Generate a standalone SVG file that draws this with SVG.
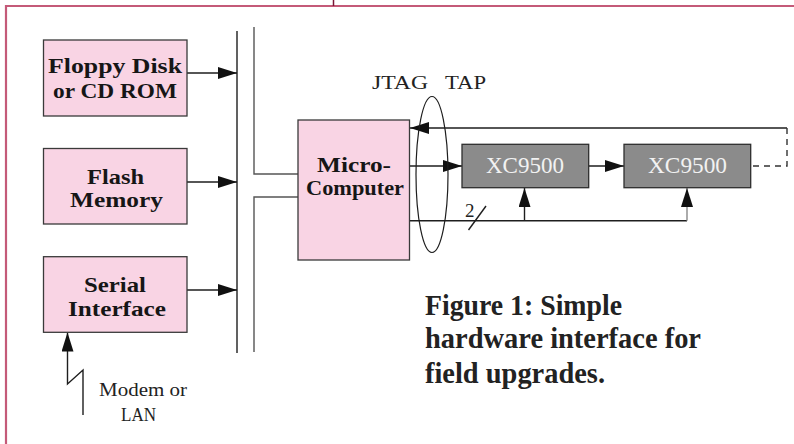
<svg xmlns="http://www.w3.org/2000/svg" width="794" height="444" viewBox="0 0 794 444">
<style>
.pink{fill:#f9d4e4;stroke:#3a3a3a;stroke-width:1.3}
.gray{fill:#8b8b8b;stroke:#2e2e2e;stroke-width:1.3}
.lbl{font-family:"Liberation Serif",serif;font-weight:bold;font-size:22px;fill:#161616;text-anchor:middle}
.chip{font-family:"Liberation Serif",serif;font-size:24px;fill:#f2f2f2;text-anchor:middle}
.thin{font-family:"Liberation Serif",serif;font-size:19px;fill:#222}
.cap{font-family:"Liberation Serif",serif;font-weight:bold;font-size:29px;fill:#222}
.w{fill:none;stroke:#1e1e1e;stroke-width:1.4}
.g{fill:none;stroke:#555;stroke-width:1.4}
</style>
<defs>
<marker id="ah" markerUnits="userSpaceOnUse" markerWidth="19" markerHeight="12" refX="19" refY="6" orient="auto">
<path d="M0,0 L19,6 L0,12 z" fill="#111"/>
</marker>
</defs>
<rect width="794" height="444" fill="#fff"/>
<g id="frame">
<path d="M6,444 V6 H794" fill="none" stroke="#c45a78" stroke-width="2.2"/>
<line x1="333.5" y1="0" x2="333.5" y2="6" stroke="#7a1736" stroke-width="1.5"/>
</g>
<g id="connectors">
<line class="w" x1="237" y1="31" x2="237" y2="353"/>
<path class="g" d="M254,27 V174 H298"/>
<path class="g" d="M298,197 H254 V352"/>
<line class="w" x1="187" y1="73" x2="237" y2="73" marker-end="url(#ah)"/>
<line class="w" x1="187" y1="182" x2="237" y2="182" marker-end="url(#ah)"/>
<line class="w" x1="187" y1="290" x2="237" y2="290" marker-end="url(#ah)"/>
<path class="w" d="M83,415 V370 L67.5,384 V332.5" marker-end="url(#ah)"/>
<line class="w" x1="787" y1="128" x2="410" y2="128" marker-end="url(#ah)"/>
<path d="M787,128 V166 H751" fill="none" stroke="#333" stroke-width="1.4" stroke-dasharray="6,5"/>
<line class="w" x1="409" y1="166" x2="462" y2="166" marker-end="url(#ah)"/>
<line class="w" x1="589" y1="166" x2="624" y2="166" marker-end="url(#ah)"/>
<line class="w" x1="409" y1="220.7" x2="687" y2="220.7"/>
<line class="w" x1="524.5" y1="220.7" x2="524.5" y2="188" marker-end="url(#ah)"/>
<line x1="687" y1="220.7" x2="687" y2="188" stroke="#888" stroke-width="1.4" marker-end="url(#ah)"/>
<line class="w" x1="468.5" y1="230" x2="486" y2="206" stroke-width="1"/>
<text class="thin" x="465" y="216.5" font-size="17">2</text>
<ellipse cx="432" cy="174.5" rx="16" ry="78" fill="none" stroke="#1e1e1e" stroke-width="1.2"/>
</g>
<g id="floppy">
<rect class="pink" x="43.5" y="40" width="143.5" height="76"/>
<text class="lbl" x="115" y="72.7" textLength="134" lengthAdjust="spacingAndGlyphs">Floppy Disk</text>
<text class="lbl" x="115" y="98.3" textLength="124" lengthAdjust="spacingAndGlyphs">or CD ROM</text>
</g>
<g id="flash">
<rect class="pink" x="43.5" y="148.5" width="143.5" height="75.5"/>
<text class="lbl" x="115.5" y="184" textLength="57" lengthAdjust="spacingAndGlyphs">Flash</text>
<text class="lbl" x="116.5" y="207" textLength="93" lengthAdjust="spacingAndGlyphs">Memory</text>
</g>
<g id="serial">
<rect class="pink" x="43.5" y="256.7" width="143.5" height="75.6"/>
<text class="lbl" x="115" y="292.3" textLength="62" lengthAdjust="spacingAndGlyphs">Serial</text>
<text class="lbl" x="117" y="316" textLength="98" lengthAdjust="spacingAndGlyphs">Interface</text>
</g>
<g id="micro">
<rect class="pink" x="298" y="120" width="111.5" height="140"/>
<text class="lbl" x="354" y="171.5" textLength="74" lengthAdjust="spacingAndGlyphs">Micro-</text>
<text class="lbl" x="355" y="195" textLength="98" lengthAdjust="spacingAndGlyphs">Computer</text>
</g>
<g id="xc1">
<rect class="gray" x="462" y="144.3" width="126.7" height="43.4"/>
<text class="chip" x="525" y="173.3" textLength="78" lengthAdjust="spacingAndGlyphs">XC9500</text>
</g>
<g id="xc2">
<rect class="gray" x="624" y="144.3" width="126.7" height="43.4"/>
<text class="chip" x="687.5" y="173.3" textLength="79" lengthAdjust="spacingAndGlyphs">XC9500</text>
</g>
<g id="labels">
<text class="thin" x="372" y="89" font-size="22" textLength="56" lengthAdjust="spacingAndGlyphs">JTAG</text>
<text class="thin" x="445" y="89" font-size="22" textLength="41" lengthAdjust="spacingAndGlyphs">TAP</text>
<text class="thin" x="99" y="396" textLength="88" lengthAdjust="spacingAndGlyphs">Modem or</text>
<text class="thin" x="121" y="421" textLength="35" lengthAdjust="spacingAndGlyphs">LAN</text>
<text class="cap" x="425" y="315" textLength="197" lengthAdjust="spacingAndGlyphs">Figure 1: Simple</text>
<text class="cap" x="425" y="348.3" textLength="276" lengthAdjust="spacingAndGlyphs">hardware interface for</text>
<text class="cap" x="425" y="383.3" textLength="180" lengthAdjust="spacingAndGlyphs">field upgrades.</text>
</g>
</svg>
